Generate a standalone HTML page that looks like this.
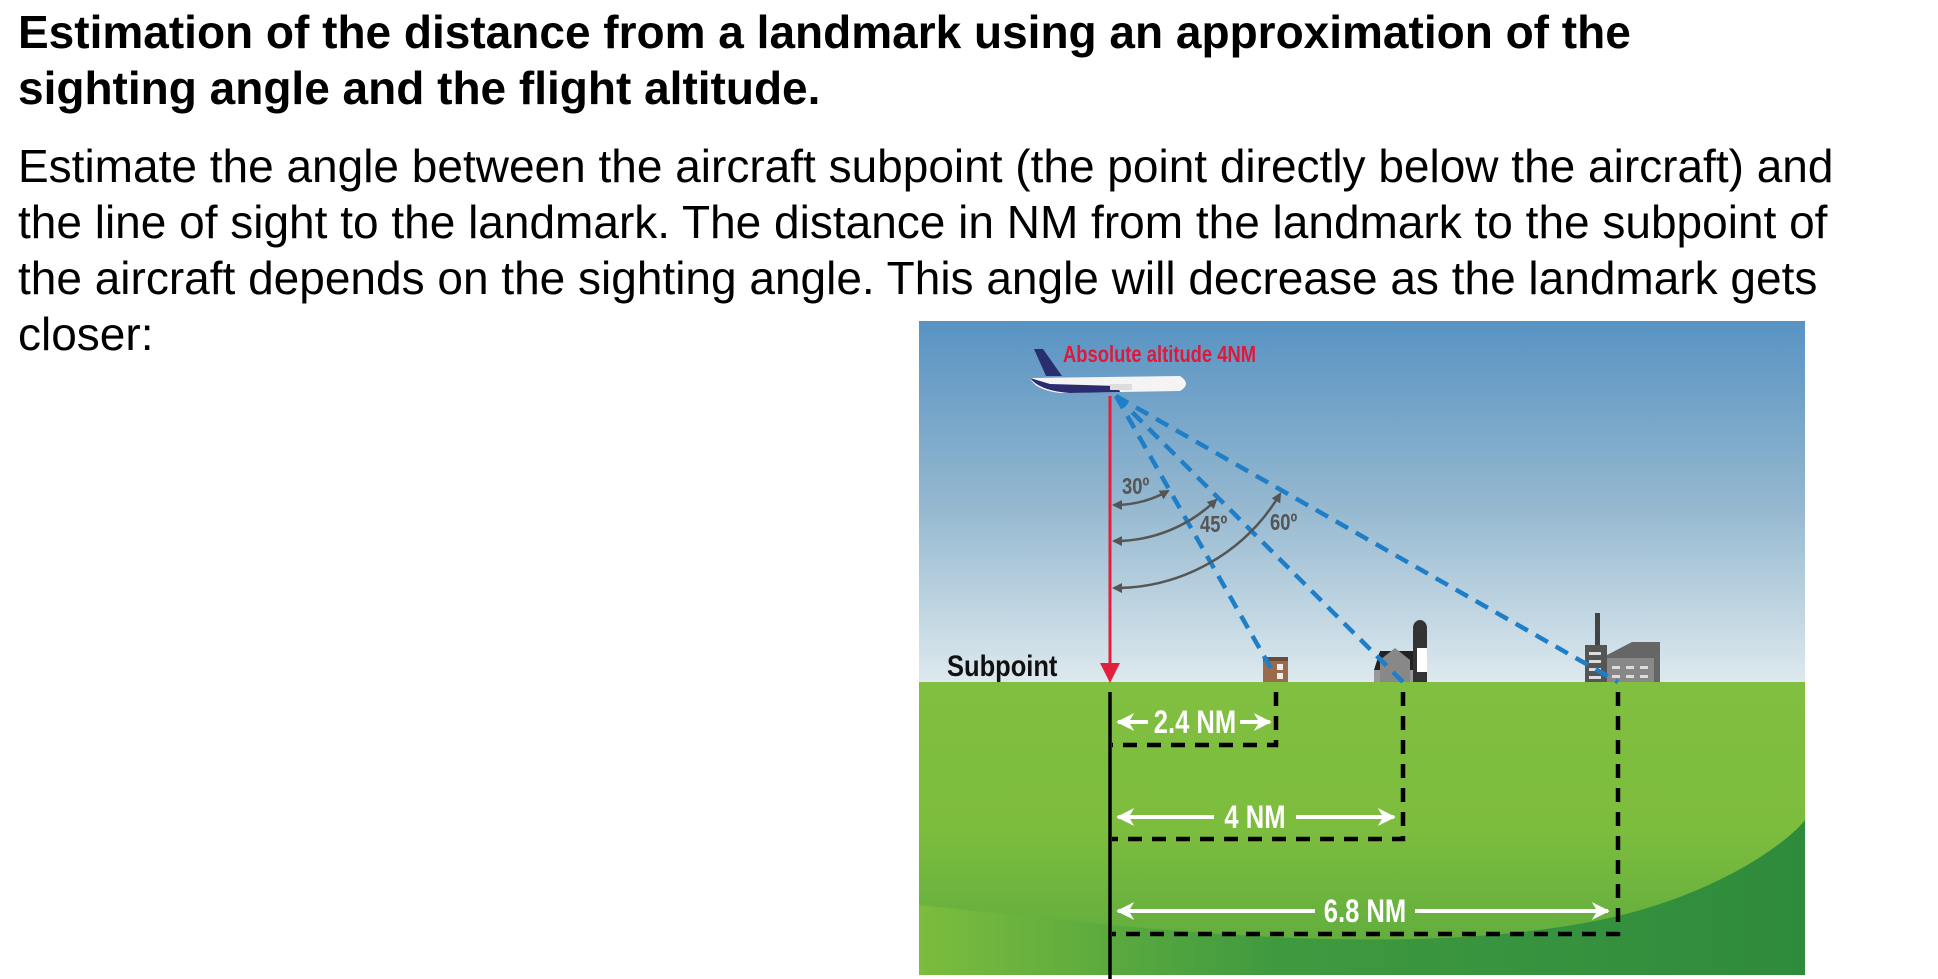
<!DOCTYPE html>
<html><head><meta charset="utf-8"><style>
html,body{margin:0;padding:0;background:#fff;width:1938px;height:979px;overflow:hidden;position:relative;font-family:"Liberation Sans",Arial,sans-serif}
.t{position:absolute;left:18px;top:4px;font-weight:bold;font-size:46px;line-height:56px;color:#000;white-space:nowrap}
.b{position:absolute;left:18px;top:138px;font-size:46px;line-height:56px;color:#000;white-space:nowrap}
svg{position:absolute;left:0;top:0}
</style></head><body>
<div class="t">Estimation of the distance from a landmark using an approximation of the<br>sighting angle and the flight altitude.</div>
<div class="b">Estimate the angle between the aircraft subpoint (the point directly below the aircraft) and<br>the line of sight to the landmark. The distance in NM from the landmark to the subpoint of<br>the aircraft depends on the sighting angle. This angle will decrease as the landmark gets<br>closer:</div>
<svg width="1938" height="979" viewBox="0 0 1938 979">
<defs>
<linearGradient id="sky" x1="0" y1="0" x2="0" y2="1">
<stop offset="0" stop-color="#5893c3"/><stop offset="0.5" stop-color="#93b7cf"/><stop offset="1" stop-color="#dde9ee"/></linearGradient>
<linearGradient id="grass" x1="0" y1="0" x2="0" y2="1">
<stop offset="0" stop-color="#80bf3f"/><stop offset="0.5" stop-color="#7dbd3e"/><stop offset="1" stop-color="#5aa93d"/></linearGradient>
<linearGradient id="dark" x1="0" y1="0" x2="1" y2="0">
<stop offset="0" stop-color="#7cbc3e"/><stop offset="0.4" stop-color="#3f9a3f"/><stop offset="1" stop-color="#2e8b3c"/></linearGradient>
<marker id="ga" viewBox="0 0 10 10" refX="8" refY="5" markerWidth="4" markerHeight="4" orient="auto-start-reverse"><path d="M0,0L10,5L0,10z" fill="#555"/></marker>
<marker id="wa" viewBox="0 0 10 10" refX="9" refY="5" markerWidth="4.5" markerHeight="4.5" orient="auto-start-reverse"><path d="M0,0L10,5L0,10L3,5z" fill="#fff"/></marker>
</defs>
<rect x="919" y="321" width="886" height="361" fill="url(#sky)"/>
<rect x="919" y="682" width="886" height="293" fill="url(#grass)"/>
<path d="M919,905 C1150,930 1400,960 1600,920 C1720,895 1790,840 1805,820 L1805,975 L919,975z" fill="url(#dark)"/>
<!-- buildings -->
<rect x="1263" y="657" width="25" height="25" fill="#9a6a4a"/><rect x="1263" y="657" width="25" height="4" fill="#6a4a35"/>
<rect x="1277" y="664" width="6" height="6" fill="#eee"/><rect x="1277" y="673" width="6" height="6" fill="#eee"/>
<rect x="1374" y="670" width="50" height="12" fill="#999"/><polygon points="1374,670 1380,651 1420,651 1424,670" fill="#222"/><polygon points="1380,682 1380,660 1395,648 1410,660 1410,682" fill="#888"/>
<rect x="1413" y="630" width="14" height="52" fill="#333"/><rect x="1417" y="648" width="10" height="24" fill="#fff"/><ellipse cx="1420" cy="628" rx="7" ry="8" fill="#333"/>
<rect x="1595" y="613" width="5" height="35" fill="#444"/><rect x="1585" y="645" width="22" height="37" fill="#555"/>
<polygon points="1607,682 1607,655 1632,642 1660,642 1660,682" fill="#666"/><rect x="1607" y="658" width="47" height="24" fill="#888"/>
<g fill="#ddd"><rect x="1589" y="652" width="12" height="3"/><rect x="1589" y="660" width="12" height="3"/><rect x="1589" y="668" width="12" height="3"/><rect x="1589" y="676" width="12" height="3"/>
<rect x="1612" y="666" width="8" height="3"/><rect x="1626" y="666" width="8" height="3"/><rect x="1640" y="666" width="8" height="3"/><rect x="1612" y="675" width="8" height="3"/><rect x="1626" y="675" width="8" height="3"/><rect x="1640" y="675" width="8" height="3"/></g>
<!-- blue sight lines -->
<g stroke="#1e7fc8" stroke-width="4.5" stroke-dasharray="14,9" fill="none">
<line x1="1116" y1="396" x2="1273" y2="672"/>
<line x1="1116" y1="396" x2="1403" y2="682"/>
<line x1="1116" y1="396" x2="1618" y2="682"/>
</g>
<!-- plane -->
<polygon points="1034,349 1043,349 1062,376 1046,376" fill="#2a2e6e"/>
<path d="M1030,378 L1180,376 Q1192,384 1180,391 L1060,393 Q1035,390 1030,378z" fill="#f4f4f4"/>
<path d="M1030,378 Q1040,391 1070,393 L1120,392 L1118,386 L1050,384z" fill="#2b2c70"/>
<rect x="1110" y="384" width="22" height="6" fill="#ddd"/>
<text x="1063" y="362" font-family="Liberation Sans,sans-serif" font-weight="bold" font-size="23" fill="#e0183a" transform="translate(1063 0) scale(0.8 1) translate(-1063 0)">Absolute altitude 4NM</text>
<!-- red vertical -->
<line x1="1110" y1="396" x2="1110" y2="665" stroke="#e21f3c" stroke-width="3"/>
<polygon points="1100,663 1120,663 1110,683" fill="#e21f3c"/>
<line x1="1110" y1="692" x2="1110" y2="979" stroke="#000" stroke-width="3.5"/>
<text x="947" y="676" font-family="Liberation Sans,sans-serif" font-weight="bold" font-size="30" fill="#111" transform="translate(947 0) scale(0.85 1) translate(-947 0)">Subpoint</text>
<!-- arcs -->
<g stroke="#555" stroke-width="2.5" fill="none" marker-start="url(#ga)" marker-end="url(#ga)">
<path d="M1114,505 A109,109 0 0 0 1168,491"/>
<path d="M1114,541 A145,145 0 0 0 1216,500"/>
<path d="M1114,588 A192,192 0 0 0 1280,494"/>
</g>
<g font-family="Liberation Sans,sans-serif" font-weight="bold" font-size="23" fill="#555">
<text x="1122" y="494" transform="translate(1122 0) scale(0.8 1) translate(-1122 0)">30º</text>
<text x="1200" y="532" transform="translate(1200 0) scale(0.8 1) translate(-1200 0)">45º</text>
<text x="1270" y="530" transform="translate(1270 0) scale(0.8 1) translate(-1270 0)">60º</text>
</g>
<!-- black dashed -->
<g stroke="#000" stroke-width="4.5" fill="none" stroke-dasharray="14,10">
<path d="M1276,692 L1276,745 L1112,745"/>
<path d="M1403,692 L1403,839 L1112,839"/>
<path d="M1618,692 L1618,934 L1112,934"/>
</g>
<!-- white arrows -->
<g stroke="#fff" stroke-width="4" fill="none" marker-start="url(#wa)" marker-end="url(#wa)">
<line x1="1118" y1="722" x2="1148" y2="722" marker-end="none"/>
<line x1="1240" y1="722" x2="1270" y2="722" marker-start="none"/>
<line x1="1118" y1="817" x2="1214" y2="817" marker-end="none"/>
<line x1="1296" y1="817" x2="1394" y2="817" marker-start="none"/>
<line x1="1118" y1="911" x2="1315" y2="911" marker-end="none"/>
<line x1="1415" y1="911" x2="1608" y2="911" marker-start="none"/>
</g>
<g font-family="Liberation Sans,sans-serif" font-weight="bold" font-size="32" fill="#fff" text-anchor="middle">
<text x="1195" y="733" transform="translate(1195 0) scale(0.8 1) translate(-1195 0)">2.4 NM</text>
<text x="1255" y="828" transform="translate(1255 0) scale(0.8 1) translate(-1255 0)">4 NM</text>
<text x="1365" y="922" transform="translate(1365 0) scale(0.8 1) translate(-1365 0)">6.8 NM</text>
</g>
</svg>
</body></html>
